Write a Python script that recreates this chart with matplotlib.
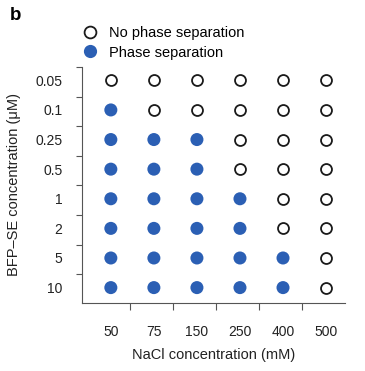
import matplotlib.pyplot as plt
import numpy as np
from matplotlib.lines import Line2D

plt.rcParams['font.family'] = ['Liberation Sans', 'DejaVu Sans']

# data
nacl = ['50', '75', '150', '250', '400', '500']
bfp = ['0.05', '0.1', '0.25', '0.5', '1', '2', '5', '10']
# 1 = phase separation, 0 = no phase separation (rows = BFP-SE, cols = NaCl)
phase = [
    [0, 0, 0, 0, 0, 0],
    [1, 0, 0, 0, 0, 0],
    [1, 1, 1, 0, 0, 0],
    [1, 1, 1, 0, 0, 0],
    [1, 1, 1, 1, 0, 0],
    [1, 1, 1, 1, 0, 0],
    [1, 1, 1, 1, 1, 0],
    [1, 1, 1, 1, 1, 0],
]

blue = '#2b5fb4'
dark = '#1a1a1a'
spine_col = '#555555'

W, H = 365, 371
fig = plt.figure(figsize=(W / 100, H / 100), dpi=100)
ax = fig.add_axes([82 / W, 68 / H, 263 / W, 236 / H])

grid = np.array(phase)
rows, cols = np.indices(grid.shape)
on = grid == 1
ax.scatter(cols[on], rows[on], s=88, color=blue, edgecolors='none', zorder=3)
ax.scatter(cols[~on], rows[~on], s=62, facecolors='white', edgecolors=dark,
           linewidths=1.3, zorder=3)

ax.set_xlim(-0.67, 5.44)
ax.set_ylim(7.52, -0.45)

for s in ['top', 'right']:
    ax.spines[s].set_visible(False)
for s in ['left', 'bottom']:
    ax.spines[s].set_color(spine_col)
    ax.spines[s].set_linewidth(0.8)

# labels at centres, ticks between categories
ax.set_xticks(np.arange(len(nacl)))
ax.set_xticklabels(nacl)
ax.set_yticks(np.arange(len(bfp)))
ax.set_yticklabels(bfp)
ax.tick_params(axis='both', which='major', length=0, labelsize=10, colors='#222222')
ax.tick_params(axis='x', which='major', pad=16)
ax.tick_params(axis='y', which='major', pad=14)

ax.set_xticks(np.arange(len(nacl) - 1) + 0.45, minor=True)
ax.set_yticks(np.arange(len(bfp)) - 0.45, minor=True)
ax.tick_params(axis='x', which='minor', length=5, width=0.8, color=spine_col)
ax.tick_params(axis='y', which='minor', length=4.3, width=0.8, color=spine_col)

ax.set_xlabel('NaCl concentration (mM)', fontsize=10.5, color='#222222', va='center')
ax.xaxis.set_label_coords(0.5, -0.22)
ax.set_ylabel('BFP–SE concentration (μM)', fontsize=10.5, color='#222222', va='center')
ax.yaxis.set_label_coords(-0.258, 0.5)

handles = [
    Line2D([], [], ls='none', marker='o', markersize=8.5, markerfacecolor='white',
           markeredgecolor=dark, markeredgewidth=1.3),
    Line2D([], [], ls='none', marker='o', markersize=9.5, markerfacecolor=blue,
           markeredgecolor='none'),
]
fig.legend(handles, ['No phase separation', 'Phase separation'],
           loc='upper left', bbox_to_anchor=(83 / W, 1 - 26 / H),
           frameon=False, fontsize=10.5, handlelength=1.0, handletextpad=0.75,
           labelspacing=0.38, borderpad=0, borderaxespad=0)

fig.text(10 / W, 1 - 16 / H, 'b', fontsize=13.5, fontweight='bold', va='center')

fig.savefig('out.png', dpi=100)
